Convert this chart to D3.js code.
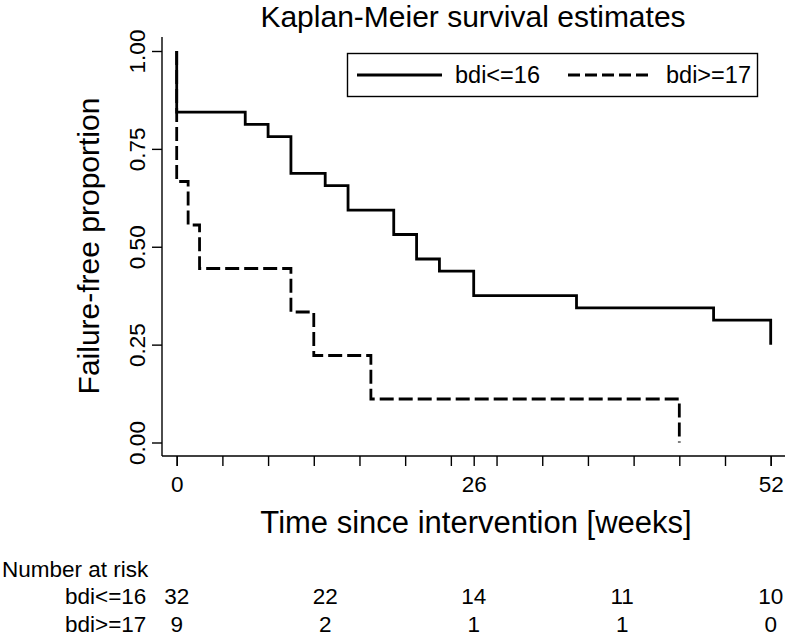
<!DOCTYPE html>
<html><head><meta charset="utf-8">
<script src="https://cdn.jsdelivr.net/npm/d3@7"></script>
<style>
html,body{margin:0;padding:0;background:#fff;}
svg{display:block;font-family:"Liberation Sans",Arial,Helvetica,sans-serif;}
</style></head>
<body><svg id="chart" width="786" height="638"></svg>
<script>
// Kaplan-Meier step data (time in weeks, survival after the step)
const timesLow = [0, 0, 6, 8, 10, 13, 15, 19, 21, 23, 26, 35, 47, 52];
const survLow  = [1, 0.84375, 0.8125, 0.78125, 0.6875, 0.65625, 0.59375, 0.53125, 0.46875, 0.4375, 0.375, 0.34375, 0.3125, 0.25];
const timesHigh = [0, 0, 1, 2, 10, 12, 17, 44];
const survHigh  = [1, 0.6667, 0.5556, 0.4444, 0.3333, 0.2222, 0.1111, 0];
const seriesNames = ["bdi<=16", "bdi>=17"];
const yTicks = [0, 0.25, 0.5, 0.75, 1];
const xMajorTicks = [0, 26, 52];
const xMinorTicks = [0, 4, 8, 12, 16, 20, 24, 28, 32, 36, 40, 44, 48, 52];
const riskTimes = [0, 13, 26, 39, 52];
const riskLow = [32, 22, 14, 11, 10];
const riskHigh = [9, 2, 1, 1, 0];

const svg = d3.select("#chart");
const x = d3.scaleLinear().domain([0, 52]).range([176.7, 770.7]);
const y = d3.scaleLinear().domain([0, 1]).range([442.5, 51]);
const axisLeftX = 162, axisBottomY = 456;

// Title
svg.append("text").attr("x", 473).attr("y", 27).attr("text-anchor", "middle")
  .attr("font-size", 30).attr("fill", "#000").text("Kaplan-Meier survival estimates");

// Axes
const yAxis = svg.append("g").attr("transform", `translate(${axisLeftX},0)`)
  .call(d3.axisLeft(y).tickValues(yTicks).tickFormat(d3.format(".2f")).tickSize(10).tickSizeOuter(0));
yAxis.select(".domain").remove();
yAxis.selectAll(".tick line").attr("stroke", "#000").attr("stroke-width", 1.4);
yAxis.selectAll(".tick text").attr("font-size", 22.5).attr("fill", "#000")
  .attr("text-anchor", "middle").attr("transform", "rotate(-90)")
  .attr("x", 0).attr("y", -17).attr("dy", 0);
svg.append("line").attr("x1", axisLeftX).attr("x2", axisLeftX).attr("y1", 37).attr("y2", axisBottomY)
  .attr("stroke", "#000").attr("stroke-width", 1.4);

const xAxisMinor = svg.append("g").attr("transform", `translate(0,${axisBottomY})`)
  .call(d3.axisBottom(x).tickValues(xMinorTicks).tickFormat("").tickSize(10).tickSizeOuter(0));
xAxisMinor.select(".domain").remove();
xAxisMinor.selectAll(".tick line").attr("stroke", "#000").attr("stroke-width", 1.4);
const xAxisMajor = svg.append("g").attr("transform", `translate(0,${axisBottomY})`)
  .call(d3.axisBottom(x).tickValues(xMajorTicks).tickFormat(d3.format("d")).tickSize(10).tickSizeOuter(0));
xAxisMajor.select(".domain").remove();
xAxisMajor.selectAll(".tick line").attr("stroke", "#000").attr("stroke-width", 1.4);
xAxisMajor.selectAll(".tick text").attr("font-size", 22.5).attr("fill", "#000").attr("y", 36).attr("dy", 0);
svg.append("line").attr("x1", axisLeftX).attr("x2", 785).attr("y1", axisBottomY).attr("y2", axisBottomY)
  .attr("stroke", "#000").attr("stroke-width", 1.4);

// Axis titles
svg.append("text").attr("transform", "translate(99,246) rotate(-90)").attr("text-anchor", "middle")
  .attr("font-size", 30).attr("fill", "#000").text("Failure-free proportion");
svg.append("text").attr("x", 476).attr("y", 533).attr("text-anchor", "middle")
  .attr("font-size", 31).attr("fill", "#000").text("Time since intervention [weeks]");

// Curves
const line = d3.line().x(d => x(d[0])).y(d => y(d[1])).curve(d3.curveStepAfter);
const ptsLow = timesLow.map((t, i) => [t, survLow[i]]);
const ptsHigh = timesHigh.map((t, i) => [t, survHigh[i]]);
svg.append("path").attr("d", line(ptsHigh)).attr("fill", "none").attr("stroke", "#000")
  .attr("stroke-width", 2.8).attr("stroke-dasharray", "14,5");
svg.append("path").attr("d", line(ptsLow)).attr("fill", "none").attr("stroke", "#000")
  .attr("stroke-width", 2.8);

// Legend
svg.append("rect").attr("x", 347.5).attr("y", 53.5).attr("width", 410).attr("height", 43)
  .attr("fill", "#fff").attr("stroke", "#000").attr("stroke-width", 1.4);
svg.append("line").attr("x1", 357).attr("x2", 442).attr("y1", 75).attr("y2", 75)
  .attr("stroke", "#000").attr("stroke-width", 2.8);
svg.append("text").attr("x", 455).attr("y", 83).attr("font-size", 23.5).attr("fill", "#000").text(seriesNames[0]);
svg.append("line").attr("x1", 568).attr("x2", 653).attr("y1", 75).attr("y2", 75)
  .attr("stroke", "#000").attr("stroke-width", 2.8).attr("stroke-dasharray", "12,5");
svg.append("text").attr("x", 666).attr("y", 83).attr("font-size", 23.5).attr("fill", "#000").text(seriesNames[1]);

// Number at risk table
svg.append("text").attr("x", 2).attr("y", 577).attr("font-size", 22.5).attr("fill", "#000").text("Number at risk");
svg.append("text").attr("x", 65).attr("y", 604).attr("font-size", 22.5).attr("fill", "#000").text(seriesNames[0]);
svg.append("text").attr("x", 65).attr("y", 632).attr("font-size", 22.5).attr("fill", "#000").text(seriesNames[1]);
svg.selectAll(".riskLow").data(riskTimes).enter().append("text")
  .attr("x", d => x(d)).attr("y", 604).attr("text-anchor", "middle").attr("font-size", 22.5)
  .attr("fill", "#000").text((d, i) => riskLow[i]);
svg.selectAll(".riskHigh").data(riskTimes).enter().append("text")
  .attr("x", d => x(d)).attr("y", 632).attr("text-anchor", "middle").attr("font-size", 22.5)
  .attr("fill", "#000").text((d, i) => riskHigh[i]);
</script></body></html>
